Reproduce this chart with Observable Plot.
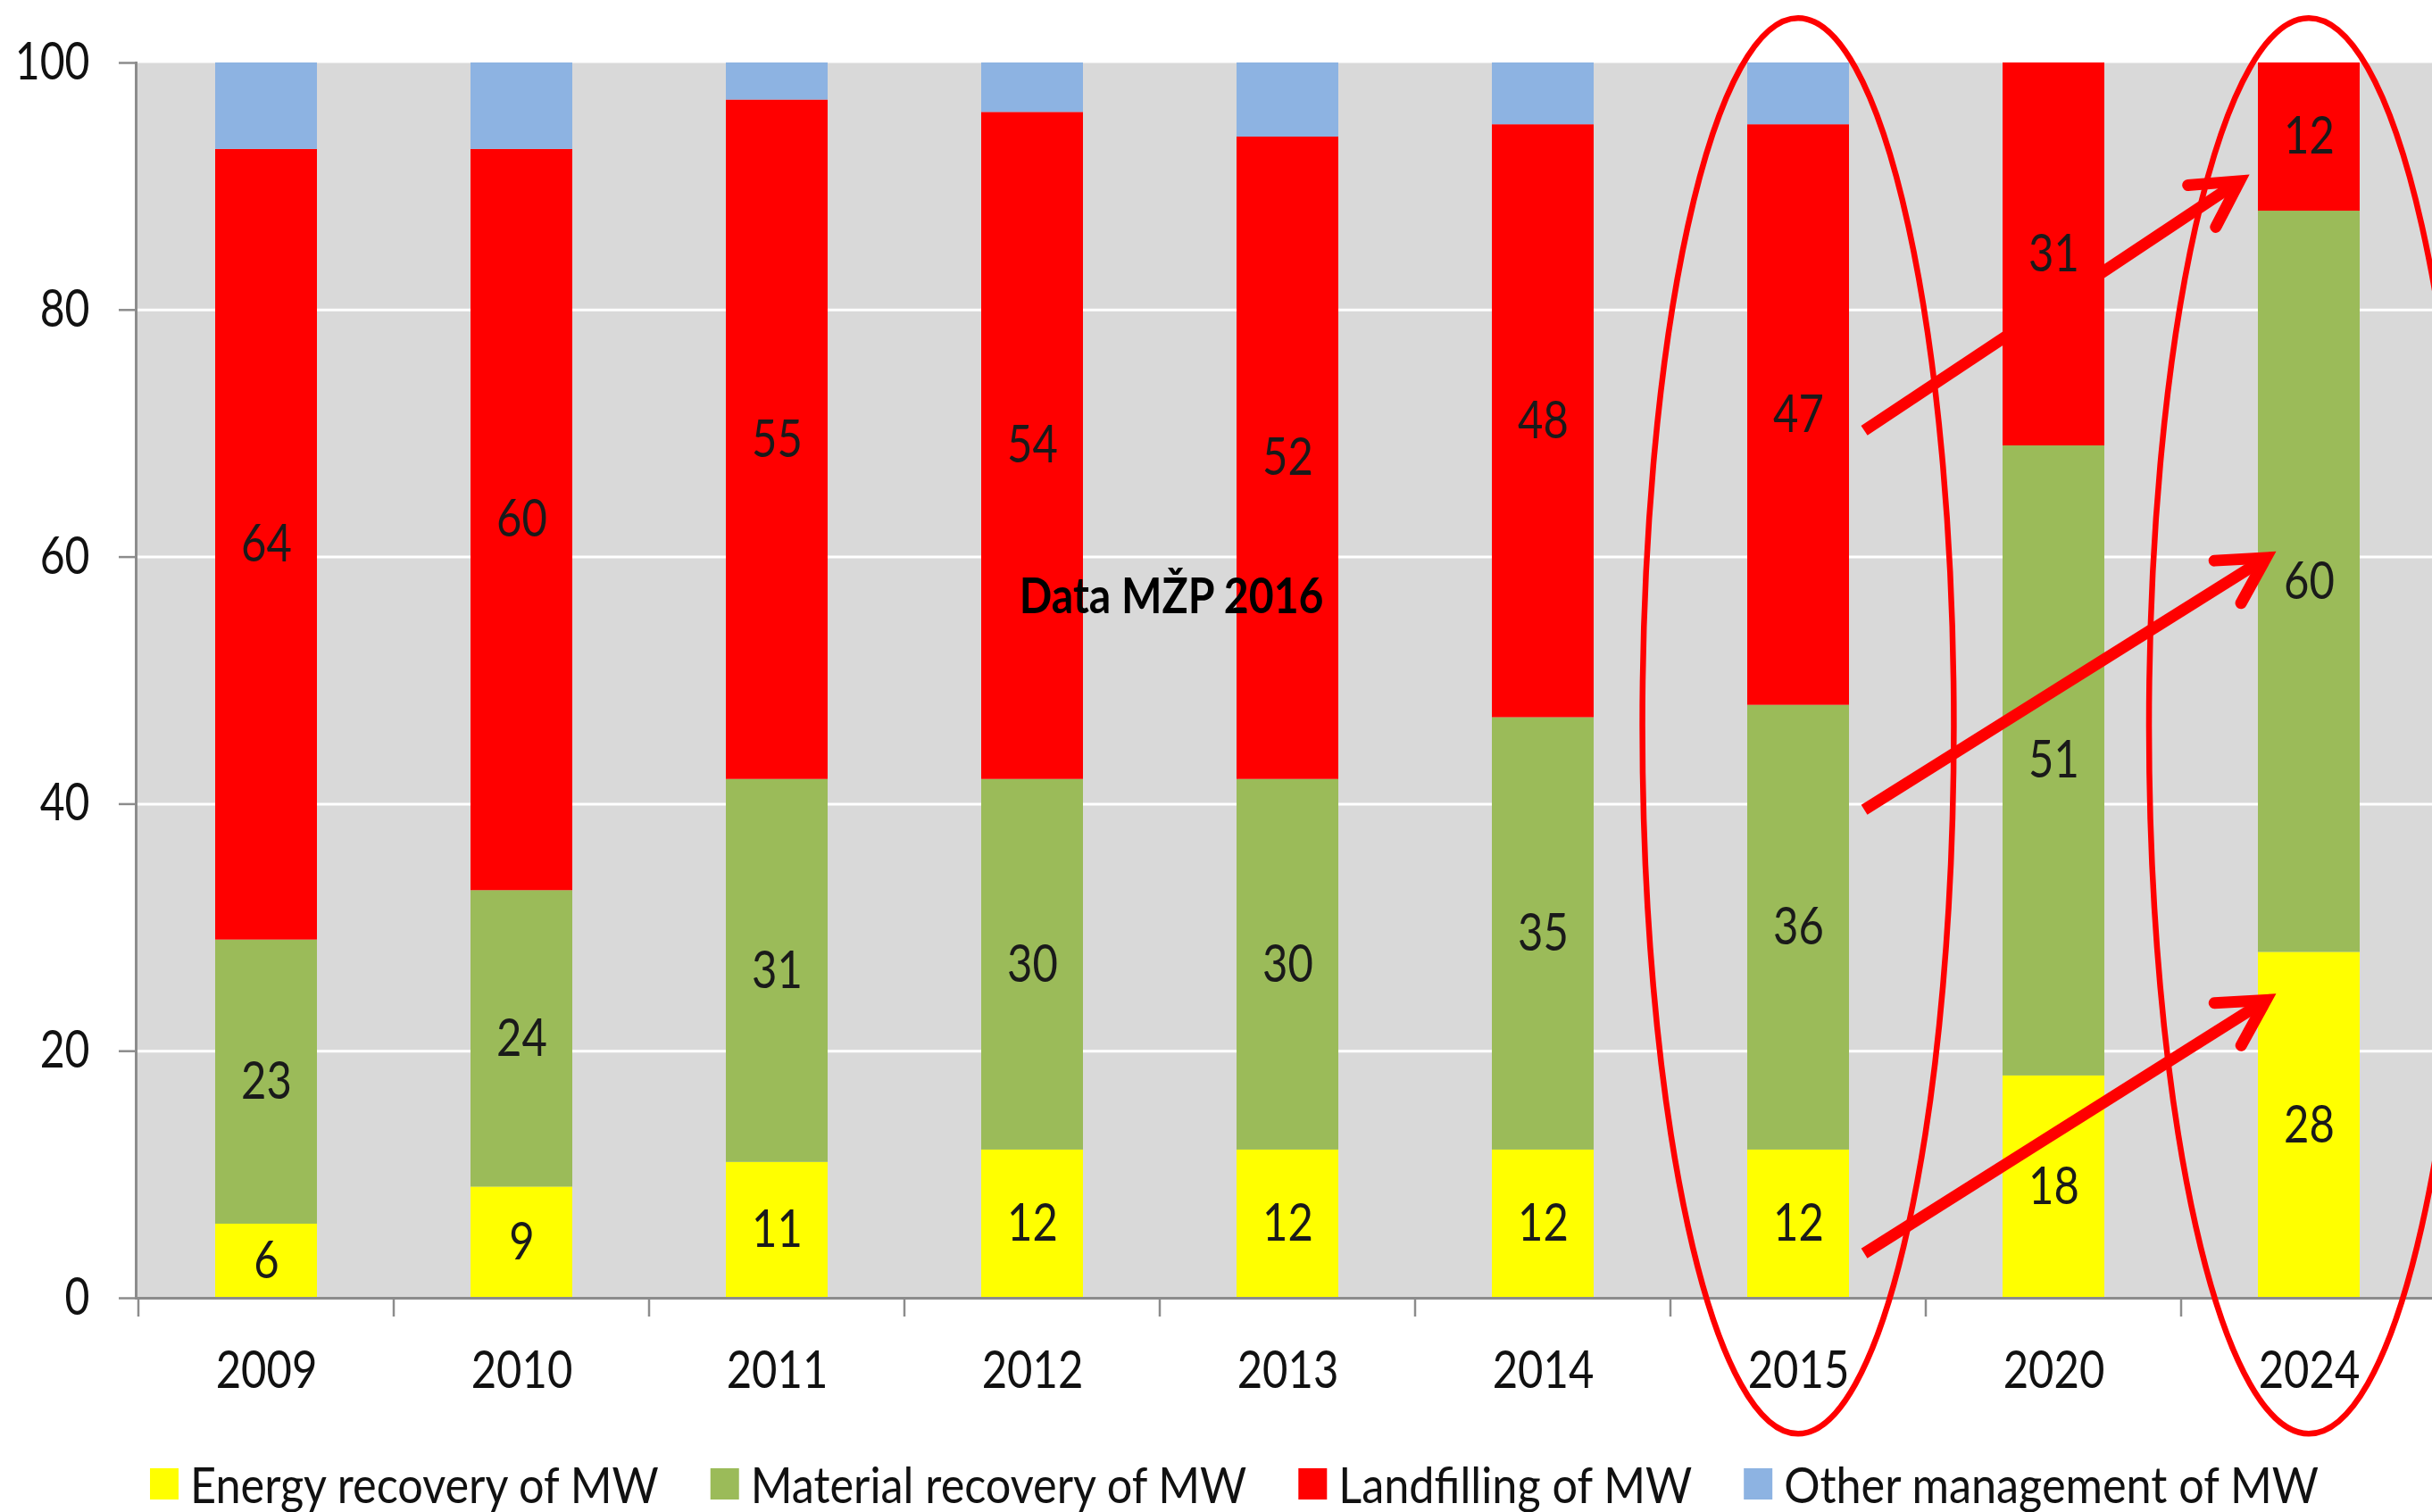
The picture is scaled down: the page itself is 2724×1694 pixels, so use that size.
<!DOCTYPE html>
<html><head><meta charset="utf-8">
<script src="https://cdn.jsdelivr.net/npm/d3@7"></script>
<script src="https://cdn.jsdelivr.net/npm/@observablehq/plot@0.6"></script>
<style>
html,body{margin:0;padding:0;background:#fff;}
#wrap{position:relative;width:2724px;height:1694px;overflow:hidden;font-family:Lato,"Open Sans",sans-serif;}
#chart svg{display:block;overflow:visible;}
#legend{position:absolute;left:0;top:1625px;width:2724px;height:69px;}
#legend svg{display:block;}
</style></head><body><div id="wrap"><div id="chart"></div><div id="legend"></div></div>
<script>
// ---- data ----
const years = ["2009","2010","2011","2012","2013","2014","2015","2020","2024"];
const seriesNames = ["Energy recovery of MW","Material recovery of MW","Landfilling of MW","Other management of MW"];
const seriesColors = ["#ffff00","#9bbb59","#ff0000","#8db3e2"];
const energy   = [6, 9, 11, 12, 12, 12, 12, 18, 28];
const material = [23, 24, 31, 30, 30, 35, 36, 51, 60];
const landfill = [64, 60, 55, 54, 52, 48, 47, 31, 12];
const other    = [7, 7, 3, 4, 6, 5, 5, 0, 0];
const yTicks = [0, 20, 40, 60, 80, 100];
const gridValues = [20, 40, 60, 80];
const labeledSeries = seriesNames.slice(0, 3);
const noteText = "Data MŽP 2016";
// annotations (value units on y; band-width units on x)
const noteYear = "2012", noteValue = 57, noteShift = 1.37;
const ellipseYears = ["2015", "2024"];
const ellipseCenter = [46.3, 46.3];
const ellipseHalfHeight = [57.3, 57.3];
const ellipseHalfWidth = [1.53, 1.57];
const arrowFromYear = "2015", arrowToYear = "2024";
const arrowFromValue = [70.2, 39.5, 3.6];
const arrowToValue = [90.4, 59.9, 24.1];
const arrowFromShift = [0.65, 0.65, 0.65];
const arrowToShift = [-0.68, -0.42, -0.42];

// ---- build table ----
const seriesValues = [energy, material, landfill, other];
const rows = [];
years.forEach((yr, i) => {
  seriesValues.forEach((arr, k) => {
    if (arr[i] > 0) rows.push({year: yr, series: seriesNames[k], value: arr[i]});
  });
});
const labelRows = rows.filter(d => labeledSeries.includes(d.series));

const FONT = 'Lato,"Open Sans",sans-serif';
const W = 2724, H = 1625, LEFT = 152, TOP = 70, ZERO = 1454;
const AXIS = "#8c8c8c";
const SQUEEZE = 0.83;

const chart = Plot.plot({
  width: W, height: H,
  marginLeft: LEFT, marginTop: TOP, marginRight: 0, marginBottom: H - ZERO,
  style: {fontFamily: FONT, fontSize: "58px", background: "transparent", overflow: "visible", color: "#111"},
  x: {domain: years, range: [LEFT, 2732], paddingInner: 0.6, paddingOuter: 0.3},
  y: {domain: [0, 100]},
  color: {domain: seriesNames, range: seriesColors},
  marks: [
    Plot.frame({fill: "#d9d9d9", stroke: "none"}),
    Plot.ruleY(gridValues, {stroke: "#ffffff", strokeWidth: 3}),
    Plot.barY(rows, {x: "year", y: "value", fill: "series"}),
    Plot.text(labelRows, Plot.stackY({x: "year", y: "value", text: d => String(d.value), fill: "#1a1a1a", fontSize: 59})),
    Plot.axisY({ticks: yTicks, tickSize: 19, tickPadding: 33, stroke: AXIS, strokeWidth: 2.5, fill: "#111", fontSize: 58, label: null}),
    Plot.axisX({tickSize: 0, tickPadding: 59, fill: "#111", fontSize: 59, label: null}),
    Plot.frame({anchor: "left", stroke: AXIS, strokeWidth: 3}),
    Plot.frame({anchor: "bottom", stroke: AXIS, strokeWidth: 3})
  ]
});
document.getElementById("chart").appendChild(chart);

// narrow the glyphs to the reference's condensed look
function squeeze(sel, f) {
  sel.each(function () {
    const n = this.getComputedTextLength();
    if (n > 0) {
      this.setAttribute("textLength", n * f);
      this.setAttribute("lengthAdjust", "spacingAndGlyphs");
    }
  });
}
const svg = d3.select(chart);
squeeze(svg.selectAll("text"), SQUEEZE);

// ---- overlay annotations via Plot's scales ----
const sx = chart.scale("x"), sy = chart.scale("y");
const bw = sx.bandwidth;
const step = sx.step || (bw / (1 - 0.6));
const cx = yr => sx.apply(yr) + bw / 2;
const g = svg.append("g");

// category boundary ticks
years.concat([null]).forEach((yr) => {
  const x = yr ? cx(yr) - step / 2 : cx(years[years.length - 1]) + step / 2;
  g.append("line").attr("x1", x).attr("x2", x)
    .attr("y1", sy.apply(0)).attr("y2", sy.apply(0) + 21)
    .attr("stroke", AXIS).attr("stroke-width", 2.5);
});

// note
const note = g.append("text").text(noteText)
  .attr("x", cx(noteYear) + noteShift * bw).attr("y", sy.apply(noteValue))
  .attr("text-anchor", "middle").attr("dominant-baseline", "central")
  .attr("font-family", FONT).attr("font-weight", "bold").attr("font-size", 56).attr("fill", "#000");
squeeze(note, 0.86);

// ellipses
ellipseYears.forEach((yr, i) => {
  const yc = sy.apply(ellipseCenter[i]);
  const ry = Math.abs(sy.apply(ellipseCenter[i] + ellipseHalfHeight[i]) - yc);
  g.append("ellipse").attr("cx", cx(yr)).attr("cy", yc)
    .attr("rx", ellipseHalfWidth[i] * bw).attr("ry", ry)
    .attr("fill", "none").attr("stroke", "#ff0000").attr("stroke-width", 6.5);
});

// arrows
const headLen = 58, headAng = 29 * Math.PI / 180;
arrowFromValue.forEach((v, i) => {
  const x1 = cx(arrowFromYear) + arrowFromShift[i] * bw, y1 = sy.apply(v);
  const x2 = cx(arrowToYear) + arrowToShift[i] * bw, y2 = sy.apply(arrowToValue[i]);
  const a = Math.atan2(y1 - y2, x1 - x2);
  const hx1 = x2 + headLen * Math.cos(a + headAng), hy1 = y2 + headLen * Math.sin(a + headAng);
  const hx2 = x2 + headLen * Math.cos(a - headAng), hy2 = y2 + headLen * Math.sin(a - headAng);
  g.append("line").attr("x1", x1).attr("y1", y1).attr("x2", x2 + 6 * Math.cos(a)).attr("y2", y2 + 6 * Math.sin(a))
    .attr("stroke", "#ff0000").attr("stroke-width", 13);
  g.append("path").attr("d", `M${hx1},${hy1}L${x2},${y2}L${hx2},${hy2}`)
    .attr("fill", "none").attr("stroke", "#ff0000").attr("stroke-width", 13)
    .attr("stroke-linejoin", "miter").attr("stroke-linecap", "round");
});

// ---- legend (below the chart SVG) ----
const lsvg = d3.select("#legend").append("svg").attr("width", W).attr("height", 69)
  .style("font-family", FONT).style("font-size", "56px");
let cursor = 168;
seriesNames.forEach((name, k) => {
  lsvg.append("rect").attr("x", cursor).attr("y", 20).attr("width", 32).attr("height", 35).attr("fill", seriesColors[k]);
  const t = lsvg.append("text").attr("x", cursor + 45).attr("y", 37)
    .attr("dominant-baseline", "central").attr("fill", "#111").text(name);
  squeeze(t, 0.9);
  cursor += 45 + (+t.attr("textLength")) + 58;
});
</script></body></html>
